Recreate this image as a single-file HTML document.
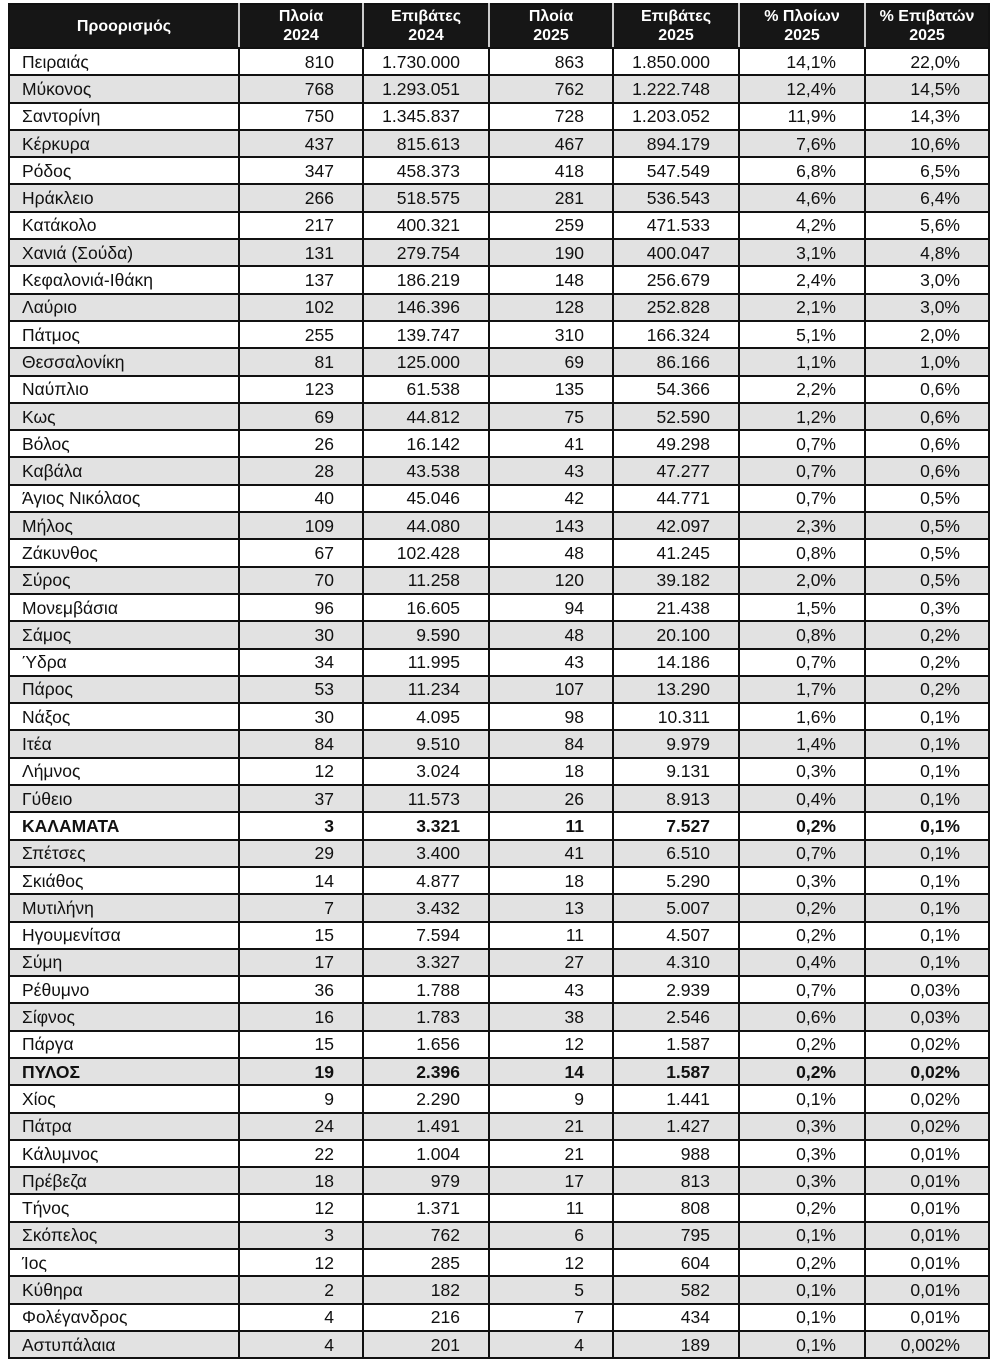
<!DOCTYPE html>
<html><head><meta charset="utf-8"><style>
body{margin:0;background:#fff;width:1000px;height:1353px;overflow:hidden}
table{position:absolute;left:8px;top:3px;border-collapse:collapse;table-layout:fixed;width:980px;font-family:"Liberation Sans","DejaVu Sans",sans-serif;font-size:17.5px;color:#111}
tr{height:27.3px}
tr.h{height:44px}
td,th{border:2px solid #111;padding:0 28px 0 12px;line-height:20px;text-align:right;white-space:nowrap;overflow:hidden}
td:first-child{text-align:left}
th{background:#161616;color:#fff;font-size:16px;line-height:19px;text-align:center;padding:0;border-left:2px solid #ccc;border-right:2px solid #ccc;border-top-color:#111}
th:first-child{border-left-color:#111}th:last-child{border-right-color:#111}
tr:nth-child(odd) td{background:#e2e2e2}
tr.b td{font-weight:bold}
</style></head><body>
<table>
<colgroup><col style="width:230px"><col style="width:124px"><col style="width:126px"><col style="width:124px"><col style="width:126px"><col style="width:126px"><col style="width:124px"></colgroup>
<tr class="h"><th>Προορισμός</th><th>Πλοία<br>2024</th><th>Επιβάτες<br>2024</th><th>Πλοία<br>2025</th><th>Επιβάτες<br>2025</th><th>% Πλοίων<br>2025</th><th>% Επιβατών<br>2025</th></tr>
<tr><td>Πειραιάς</td><td>810</td><td>1.730.000</td><td>863</td><td>1.850.000</td><td>14,1%</td><td>22,0%</td></tr>
<tr><td>Μύκονος</td><td>768</td><td>1.293.051</td><td>762</td><td>1.222.748</td><td>12,4%</td><td>14,5%</td></tr>
<tr><td>Σαντορίνη</td><td>750</td><td>1.345.837</td><td>728</td><td>1.203.052</td><td>11,9%</td><td>14,3%</td></tr>
<tr><td>Κέρκυρα</td><td>437</td><td>815.613</td><td>467</td><td>894.179</td><td>7,6%</td><td>10,6%</td></tr>
<tr><td>Ρόδος</td><td>347</td><td>458.373</td><td>418</td><td>547.549</td><td>6,8%</td><td>6,5%</td></tr>
<tr><td>Ηράκλειο</td><td>266</td><td>518.575</td><td>281</td><td>536.543</td><td>4,6%</td><td>6,4%</td></tr>
<tr><td>Κατάκολο</td><td>217</td><td>400.321</td><td>259</td><td>471.533</td><td>4,2%</td><td>5,6%</td></tr>
<tr><td>Χανιά (Σούδα)</td><td>131</td><td>279.754</td><td>190</td><td>400.047</td><td>3,1%</td><td>4,8%</td></tr>
<tr><td>Κεφαλονιά-Ιθάκη</td><td>137</td><td>186.219</td><td>148</td><td>256.679</td><td>2,4%</td><td>3,0%</td></tr>
<tr><td>Λαύριο</td><td>102</td><td>146.396</td><td>128</td><td>252.828</td><td>2,1%</td><td>3,0%</td></tr>
<tr><td>Πάτμος</td><td>255</td><td>139.747</td><td>310</td><td>166.324</td><td>5,1%</td><td>2,0%</td></tr>
<tr><td>Θεσσαλονίκη</td><td>81</td><td>125.000</td><td>69</td><td>86.166</td><td>1,1%</td><td>1,0%</td></tr>
<tr><td>Ναύπλιο</td><td>123</td><td>61.538</td><td>135</td><td>54.366</td><td>2,2%</td><td>0,6%</td></tr>
<tr><td>Κως</td><td>69</td><td>44.812</td><td>75</td><td>52.590</td><td>1,2%</td><td>0,6%</td></tr>
<tr><td>Βόλος</td><td>26</td><td>16.142</td><td>41</td><td>49.298</td><td>0,7%</td><td>0,6%</td></tr>
<tr><td>Καβάλα</td><td>28</td><td>43.538</td><td>43</td><td>47.277</td><td>0,7%</td><td>0,6%</td></tr>
<tr><td>Άγιος Νικόλαος</td><td>40</td><td>45.046</td><td>42</td><td>44.771</td><td>0,7%</td><td>0,5%</td></tr>
<tr><td>Μήλος</td><td>109</td><td>44.080</td><td>143</td><td>42.097</td><td>2,3%</td><td>0,5%</td></tr>
<tr><td>Ζάκυνθος</td><td>67</td><td>102.428</td><td>48</td><td>41.245</td><td>0,8%</td><td>0,5%</td></tr>
<tr><td>Σύρος</td><td>70</td><td>11.258</td><td>120</td><td>39.182</td><td>2,0%</td><td>0,5%</td></tr>
<tr><td>Μονεμβάσια</td><td>96</td><td>16.605</td><td>94</td><td>21.438</td><td>1,5%</td><td>0,3%</td></tr>
<tr><td>Σάμος</td><td>30</td><td>9.590</td><td>48</td><td>20.100</td><td>0,8%</td><td>0,2%</td></tr>
<tr><td>Ύδρα</td><td>34</td><td>11.995</td><td>43</td><td>14.186</td><td>0,7%</td><td>0,2%</td></tr>
<tr><td>Πάρος</td><td>53</td><td>11.234</td><td>107</td><td>13.290</td><td>1,7%</td><td>0,2%</td></tr>
<tr><td>Νάξος</td><td>30</td><td>4.095</td><td>98</td><td>10.311</td><td>1,6%</td><td>0,1%</td></tr>
<tr><td>Ιτέα</td><td>84</td><td>9.510</td><td>84</td><td>9.979</td><td>1,4%</td><td>0,1%</td></tr>
<tr><td>Λήμνος</td><td>12</td><td>3.024</td><td>18</td><td>9.131</td><td>0,3%</td><td>0,1%</td></tr>
<tr><td>Γύθειο</td><td>37</td><td>11.573</td><td>26</td><td>8.913</td><td>0,4%</td><td>0,1%</td></tr>
<tr class="b"><td>ΚΑΛΑΜΑΤΑ</td><td>3</td><td>3.321</td><td>11</td><td>7.527</td><td>0,2%</td><td>0,1%</td></tr>
<tr><td>Σπέτσες</td><td>29</td><td>3.400</td><td>41</td><td>6.510</td><td>0,7%</td><td>0,1%</td></tr>
<tr><td>Σκιάθος</td><td>14</td><td>4.877</td><td>18</td><td>5.290</td><td>0,3%</td><td>0,1%</td></tr>
<tr><td>Μυτιλήνη</td><td>7</td><td>3.432</td><td>13</td><td>5.007</td><td>0,2%</td><td>0,1%</td></tr>
<tr><td>Ηγουμενίτσα</td><td>15</td><td>7.594</td><td>11</td><td>4.507</td><td>0,2%</td><td>0,1%</td></tr>
<tr><td>Σύμη</td><td>17</td><td>3.327</td><td>27</td><td>4.310</td><td>0,4%</td><td>0,1%</td></tr>
<tr><td>Ρέθυμνο</td><td>36</td><td>1.788</td><td>43</td><td>2.939</td><td>0,7%</td><td>0,03%</td></tr>
<tr><td>Σίφνος</td><td>16</td><td>1.783</td><td>38</td><td>2.546</td><td>0,6%</td><td>0,03%</td></tr>
<tr><td>Πάργα</td><td>15</td><td>1.656</td><td>12</td><td>1.587</td><td>0,2%</td><td>0,02%</td></tr>
<tr class="b"><td>ΠΥΛΟΣ</td><td>19</td><td>2.396</td><td>14</td><td>1.587</td><td>0,2%</td><td>0,02%</td></tr>
<tr><td>Χίος</td><td>9</td><td>2.290</td><td>9</td><td>1.441</td><td>0,1%</td><td>0,02%</td></tr>
<tr><td>Πάτρα</td><td>24</td><td>1.491</td><td>21</td><td>1.427</td><td>0,3%</td><td>0,02%</td></tr>
<tr><td>Κάλυμνος</td><td>22</td><td>1.004</td><td>21</td><td>988</td><td>0,3%</td><td>0,01%</td></tr>
<tr><td>Πρέβεζα</td><td>18</td><td>979</td><td>17</td><td>813</td><td>0,3%</td><td>0,01%</td></tr>
<tr><td>Τήνος</td><td>12</td><td>1.371</td><td>11</td><td>808</td><td>0,2%</td><td>0,01%</td></tr>
<tr><td>Σκόπελος</td><td>3</td><td>762</td><td>6</td><td>795</td><td>0,1%</td><td>0,01%</td></tr>
<tr><td>Ίος</td><td>12</td><td>285</td><td>12</td><td>604</td><td>0,2%</td><td>0,01%</td></tr>
<tr><td>Κύθηρα</td><td>2</td><td>182</td><td>5</td><td>582</td><td>0,1%</td><td>0,01%</td></tr>
<tr><td>Φολέγανδρος</td><td>4</td><td>216</td><td>7</td><td>434</td><td>0,1%</td><td>0,01%</td></tr>
<tr><td>Αστυπάλαια</td><td>4</td><td>201</td><td>4</td><td>189</td><td>0,1%</td><td>0,002%</td></tr>
</table>
</body></html>
